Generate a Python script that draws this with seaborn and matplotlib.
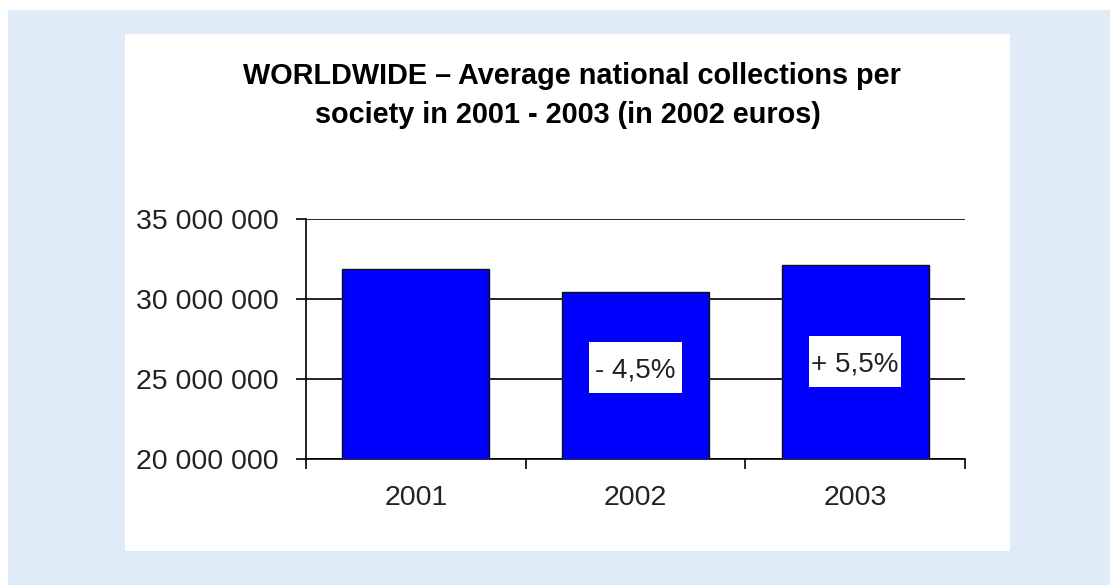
import matplotlib
matplotlib.use("Agg")
import matplotlib.pyplot as plt
from matplotlib.patches import Rectangle
from matplotlib.ticker import FuncFormatter, FixedLocator
import seaborn as sns
import pandas as pd

# Average national collections per society (2002 euros)
years = ["2001", "2002", "2003"]
collections = [31_900_000, 30_450_000, 32_120_000]

# Year-on-year change labels and the height at which each one sits
change_labels = ["", "- 4,5%", "+ 5,5%"]
change_label_y = [None, 25_700_000, 26_080_000]

y_ticks = [20_000_000, 25_000_000, 30_000_000, 35_000_000]

title_lines = [
    "WORLDWIDE \u2013 Average national collections per",
    "society in 2001 - 2003 (in 2002 euros)",
]

sns.set_theme(style="white")
plt.rcParams["font.family"] = ["Liberation Sans", "DejaVu Sans"]

W, H = 1110, 585
fig = plt.figure(figsize=(W / 100, H / 100), dpi=100, facecolor="white")

# Light-blue page background and the white chart panel
fig.patches.append(Rectangle((8 / W, 0), (W - 8) / W, (H - 10) / H,
                             transform=fig.transFigure, facecolor="#dfecf8",
                             edgecolor="none", zorder=-3))
fig.patches.append(Rectangle((125 / W, 34 / H), 885 / W, 517 / H,
                             transform=fig.transFigure, facecolor="white",
                             edgecolor="none", zorder=-2))

ax = fig.add_axes([306 / W, 1 - 459 / H, (965 - 306) / W, (459 - 219) / H])
ax.set_facecolor("none")

df = pd.DataFrame({"year": years, "value": collections})
sns.barplot(data=df, x="year", y="value", color="#0000ff", saturation=1,
            width=0.67, edgecolor="#111111", linewidth=1.0, ax=ax, zorder=3)

ax.set_xlim(-0.5, len(years) - 0.5)
ax.set_ylim(y_ticks[0], y_ticks[-1])
ax.set_xlabel("")
ax.set_ylabel("")

# Horizontal gridlines
ax.set_yticks(y_ticks)
ax.yaxis.set_major_formatter(FuncFormatter(lambda v, p: f"{int(v):,}".replace(",", " ")))
ax.yaxis.grid(True, color="black", linewidth=1.2, zorder=1)
ax.set_axisbelow(True)

# Category boundaries carry the tick marks, labels sit on the centres
ax.xaxis.set_major_locator(FixedLocator([-0.5, 0.5, 1.5, 2.5]))
ax.xaxis.set_major_formatter(FuncFormatter(lambda v, p: ""))
ax.xaxis.set_minor_locator(FixedLocator(range(len(years))))
ax.set_xticklabels(years, minor=True)
ax.tick_params(axis="x", which="major", direction="out", length=7.5,
               width=1.2, color="black", bottom=True)
ax.tick_params(axis="x", which="minor", length=0, pad=19, labelsize=20.5,
               labelcolor="#222222", bottom=True)
ax.tick_params(axis="y", direction="out", length=7.5, width=1.2,
               color="black", pad=12, labelsize=20.5, labelcolor="#222222",
               left=True)

for side in ["top", "right"]:
    ax.spines[side].set_visible(False)
for side in ["left", "bottom"]:
    ax.spines[side].set_color("black")
    ax.spines[side].set_linewidth(1.2)

# Percentage change labels on white boxes
box_w = 0.42
box_h = 3_200_000
for i, (lab, yv) in enumerate(zip(change_labels, change_label_y)):
    if lab:
        ax.add_patch(Rectangle((i - box_w / 2, yv - box_h / 2), box_w, box_h,
                               facecolor="white", edgecolor="none", zorder=4))
        ax.text(i, yv, lab, ha="center", va="center_baseline", fontsize=20,
                color="#222222", zorder=5)

# Two-line bold title
fig.text(572 / W, 1 - 84 / H, title_lines[0], ha="center", va="baseline",
         fontsize=20.8, fontweight="bold", color="black")
fig.text(568 / W, 1 - 123 / H, title_lines[1], ha="center", va="baseline",
         fontsize=20.8, fontweight="bold", color="black")

fig.savefig("out.png", dpi=100, facecolor=fig.get_facecolor())
